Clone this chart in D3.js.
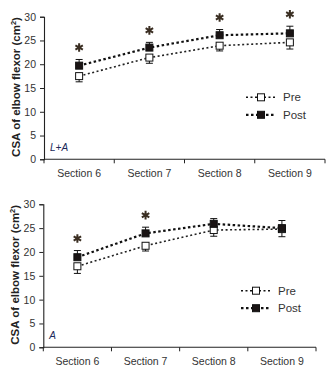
<!DOCTYPE html>
<html>
<head>
<meta charset="utf-8">
<script src="https://cdn.jsdelivr.net/npm/d3@7"></script>
<style>
  body { margin: 0; background: #fff; }
  svg { display: block; font-family: "Liberation Sans", Arial, sans-serif; }
</style>
</head>
<body>
<div id="chart"></div>
<script>
var sections = ["Section 6", "Section 7", "Section 8", "Section 9"];
var yTicks = [0, 5, 10, 15, 20, 25, 30];

// upper panel: L+A
var laPre = [17.5, 21.4, 23.9, 24.6];
var laPreErr = [1.2, 1.2, 1.1, 1.4];
var laPost = [19.7, 23.5, 26.1, 26.5];
var laPostErr = [1.3, 1.1, 1.2, 1.5];
var laSig = [true, true, true, true];

// lower panel: A
var aPre = [17.0, 21.3, 24.6, 24.8];
var aPreErr = [1.5, 1.1, 1.3, 1.6];
var aPost = [18.9, 23.9, 25.9, 25.0];
var aPostErr = [1.4, 1.3, 1.1, 1.6];
var aSig = [true, true, false, false];

var svg = d3.select("#chart").append("svg")
    .attr("width", 330)
    .attr("height", 375);

function panel(opt) {
  var g = svg.append("g");

  var x = d3.scaleBand().domain(sections).range(opt.xr);
  var y = d3.scaleLinear().domain([0, 30]).range(opt.yr);
  var cx = function(d, i) { return x(sections[i]) + x.bandwidth() / 2; };

  // y axis
  var ya = g.append("g")
      .attr("transform", "translate(" + opt.xr[0] + ",0)")
      .call(d3.axisLeft(y).tickValues(yTicks).tickSize(4).tickPadding(4));
  // x axis, ticks at band edges
  var edges = sections.map(function(s) { return x(s); }).concat([opt.xr[1]]);
  var xa = g.append("g")
      .attr("transform", "translate(0," + opt.yr[0] + ")")
      .call(d3.axisBottom(x).tickSize(0).tickPadding(10));
  xa.selectAll(".edge").data(edges).enter().append("line")
      .attr("x1", function(d) { return d; })
      .attr("x2", function(d) { return d; })
      .attr("y1", 0).attr("y2", 4)
      .attr("stroke", "#222");
  [ya, xa].forEach(function(a) {
    a.select(".domain").attr("stroke", "#222").attr("stroke-width", 1.1);
    a.selectAll(".tick line").attr("stroke", "#222");
    a.selectAll("text").attr("fill", "#333").style("font-size", "10.5px");
  });
  xa.select(".domain").attr("d", "M" + opt.xr[0] + ",0H" + opt.xr[1]);

  // y title
  var t = g.append("text")
      .attr("transform", "translate(" + opt.tx + "," + ((opt.yr[0] + opt.yr[1]) / 2 - 1) + ") rotate(-90)")
      .attr("text-anchor", "middle")
      .attr("fill", "#222")
      .style("font-size", "11.5px")
      .style("font-weight", "bold");
  t.append("tspan").text("CSA of elbow flexor (cm");
  t.append("tspan").attr("dy", -4).style("font-size", "7.5px").text("2");
  t.append("tspan").attr("dy", 4).text(")");

  // connecting lines
  var line = d3.line().x(cx).y(function(d) { return y(d); });
  g.append("path").datum(opt.pre).attr("d", line)
      .attr("fill", "none").attr("stroke", "#222")
      .attr("stroke-width", 1.6).attr("stroke-dasharray", "2,2.5");
  g.append("path").datum(opt.post).attr("d", line)
      .attr("fill", "none").attr("stroke", "#111")
      .attr("stroke-width", 2.2).attr("stroke-dasharray", "2.5,2.5");

  // error bars: Pre downward, Post upward
  function errs(vals, e, dir) {
    var eg = g.append("g").attr("stroke", "#111").attr("stroke-width", 1);
    vals.forEach(function(v, i) {
      var px = cx(v, i), y0 = y(v), y1 = y(v + dir * e[i]);
      eg.append("line").attr("x1", px).attr("x2", px).attr("y1", y0).attr("y2", y1);
      eg.append("line").attr("x1", px - 3.5).attr("x2", px + 3.5).attr("y1", y1).attr("y2", y1);
    });
  }
  errs(opt.pre, opt.preErr, -1);
  errs(opt.post, opt.postErr, 1);

  // markers
  var s = 7;
  g.selectAll(".pre").data(opt.pre).enter().append("rect")
      .attr("x", function(d, i) { return cx(d, i) - s / 2; })
      .attr("y", function(d) { return y(d) - s / 2; })
      .attr("width", s).attr("height", s)
      .attr("fill", "#fff").attr("stroke", "#111").attr("stroke-width", 1);
  g.selectAll(".post").data(opt.post).enter().append("rect")
      .attr("x", function(d, i) { return cx(d, i) - s / 2; })
      .attr("y", function(d) { return y(d) - s / 2; })
      .attr("width", s).attr("height", s)
      .attr("fill", "#1a1414").attr("stroke", "#111").attr("stroke-width", 1);

  // significance asterisks
  var star = d3.symbol().type(d3.symbolAsterisk).size(52);
  opt.sig.forEach(function(on, i) {
    if (!on) return;
    var top = y(opt.post[i] + opt.postErr[i]);
    g.append("path").attr("d", star)
        .attr("transform", "translate(" + cx(0, i) + "," + (top - 12) + ")")
        .attr("stroke", "#3a2e22").attr("stroke-width", 2).attr("fill", "none");
  });

  // legend
  [["Pre", 1.6, "2,2.5", "#fff"], ["Post", 2.2, "2.5,2.5", "#1a1414"]].forEach(function(l, k) {
    var ly = opt.ly + k * 17.5;
    g.append("line").attr("x1", opt.lx - 15).attr("x2", opt.lx + 15)
        .attr("y1", ly).attr("y2", ly)
        .attr("stroke", "#111").attr("stroke-width", l[1]).attr("stroke-dasharray", l[2]);
    g.append("rect").attr("x", opt.lx - s / 2).attr("y", ly - s / 2)
        .attr("width", s).attr("height", s)
        .attr("fill", l[3]).attr("stroke", "#111");
    g.append("text").attr("x", opt.lx + 22).attr("y", ly + 4)
        .attr("fill", "#333").style("font-size", "11.5px").text(l[0]);
  });

  g.append("text").attr("x", opt.xr[0] + 6).attr("y", opt.yr[0] - 8)
      .attr("fill", "#1c2a5a").style("font-size", "10px").style("font-style", "italic")
      .text(opt.label);
}

panel({ xr: [44, 325], yr: [159.3, 16.7], tx: 20, pre: laPre, preErr: laPreErr,
        post: laPost, postErr: laPostErr, sig: laSig, lx: 261, ly: 97.3, label: "L+A" });
panel({ xr: [43.3, 316], yr: [347.3, 204.3], tx: 19, pre: aPre, preErr: aPreErr,
        post: aPost, postErr: aPostErr, sig: aSig, lx: 256, ly: 290.7, label: "A" });
</script>
</body>
</html>
